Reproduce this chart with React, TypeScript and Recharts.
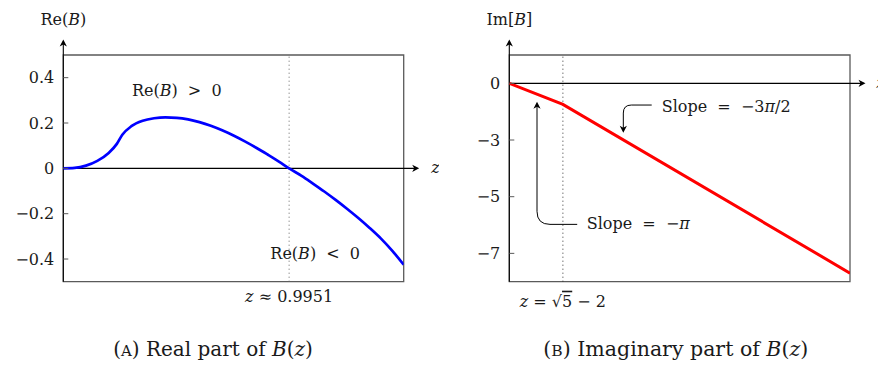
import React from 'react';
import {
  LineChart,
  Line,
  XAxis,
  YAxis,
  ReferenceLine,
  ReferenceArea,
  ReferenceDot,
} from 'recharts';

// ---------- Panel A: real part of B(z) ----------
const reZ = [
  0, 0.05, 0.1, 0.15, 0.2, 0.236, 0.26, 0.3, 0.35, 0.4, 0.45, 0.5, 0.55, 0.6, 0.65, 0.7, 0.75,
  0.8, 0.85, 0.9, 0.95, 0.9951, 1.05, 1.1, 1.15, 1.2, 1.25, 1.3, 1.35, 1.4, 1.45, 1.5,
];
const reValues = [
  0, 0.002, 0.012, 0.033, 0.068, 0.108, 0.148, 0.186, 0.21, 0.221, 0.225, 0.223, 0.216, 0.204,
  0.188, 0.168, 0.145, 0.119, 0.091, 0.061, 0.03, 0, -0.033, -0.067, -0.102, -0.139, -0.178,
  -0.219, -0.263, -0.31, -0.364, -0.425,
];
const reDomainZ = [0, 1.5];
const reDomainV = [-0.5, 0.5];
const reTicks = [-0.4, -0.2, 0, 0.2, 0.4];
const reTickLabels = ['−0.4', '−0.2', '0', '0.2', '0.4'];
const reRoot = 0.9951;

// ---------- Panel B: imaginary part of B(z) ----------
const imZ = [0, 0.236, 1.5];
const imValues = [0, -0.742, -6.698];
const imDomainZ = [0, 1.5];
const imDomainV = [-7, 1];
const imTicks = [0, -2, -4, -6];
const imTickLabels = ['0', '−3', '−5', '−7'];
const imBreak = 0.236;

const reData = reZ.map((z, i) => ({ z, v: reValues[i] }));
const imData = imZ.map((z, i) => ({ z, v: imValues[i] }));

const SERIF = '"DejaVu Serif", "Liberation Serif", serif';
const INK = '#1a1a1a';
const FRAME = '#5a5a5a';
const AXIS_OVERHANG = 15.5;

type Part = [string, boolean?];

const MathText = ({
  x,
  y,
  parts,
  size = 16,
  anchor = 'middle',
}: {
  x: number;
  y: number;
  parts: Part[];
  size?: number;
  anchor?: 'start' | 'middle' | 'end';
}) => (
  <text
    x={x}
    y={y}
    textAnchor={anchor}
    fontFamily={SERIF}
    fontSize={size}
    fill={INK}
    style={{ whiteSpace: 'pre' }}
  >
    {parts.map(([s, it], k) => (
      <tspan key={k} fontStyle={it ? 'italic' : undefined}>
        {s}
      </tspan>
    ))}
  </text>
);

const ArrowHead = ({ x, y, angle }: { x: number; y: number; angle: number }) => (
  <path
    d="M0,0 L-7,-3.6 L-5,0 L-7,3.6 Z"
    transform={`translate(${x},${y}) rotate(${angle})`}
    fill="#000"
  />
);

// horizontal axis through the plot with an arrow past the right frame
const HorizontalAxisArrow = (p: any) => {
  const xl = Math.min(p.x1, p.x2);
  const xr = Math.max(p.x1, p.x2) + AXIS_OVERHANG;
  return (
    <g>
      <line x1={xl} y1={p.y1} x2={xr - 2} y2={p.y1} stroke="#000" strokeWidth={1.1} />
      <ArrowHead x={xr} y={p.y1} angle={0} />
    </g>
  );
};

// vertical axis along the left frame with an arrow above the top frame
const VerticalAxisArrow = (p: any) => {
  const yb = Math.max(p.y1, p.y2);
  const yt = Math.min(p.y1, p.y2) - AXIS_OVERHANG;
  return (
    <g>
      <line x1={p.x1} y1={yb} x2={p.x1} y2={yt + 2} stroke="#000" strokeWidth={1.1} />
      <ArrowHead x={p.x1} y={yt} angle={-90} />
    </g>
  );
};

// annotation arrow: horizontal leg, rounded corner, vertical leg ending in a head
const elbowArrow = (r: number) => (p: any) => {
  const { x1, y1, x2, y2 } = p;
  const dx = Math.sign(x2 - x1) || 1;
  const dy = Math.sign(y2 - y1) || 1;
  const d = `M${x1},${y1} H${x2 - dx * r} Q${x2},${y1} ${x2},${y1 + dy * r} V${y2 - dy * 2}`;
  return (
    <g>
      <path d={d} fill="none" stroke="#000" strokeWidth={1} />
      <ArrowHead x={x2} y={y2} angle={dy > 0 ? 90 : -90} />
    </g>
  );
};

const makeTick = (ticks: number[], labels: string[]) => (props: any) => {
  const { x, y, payload } = props;
  const idx = ticks.findIndex((t) => Math.abs(t - payload.value) < 1e-9);
  return (
    <g>
      <line x1={x} x2={x + 5} y1={y} y2={y} stroke={FRAME} strokeWidth={1} />
      <text
        x={x - 9}
        y={y}
        dy="0.36em"
        textAnchor="end"
        fontFamily={SERIF}
        fontSize={16}
        fill={INK}
      >
        {labels[idx]}
      </text>
    </g>
  );
};

const textAt =
  (
    parts: Part[],
    dy: number,
    anchor: 'start' | 'middle' | 'end' = 'middle',
    dx = 0,
    size = 16,
  ) =>
  (p: any) =>
    <MathText x={p.cx + dx} y={p.cy + dy} parts={parts} anchor={anchor} size={size} />;

const W = 439;
const H = 368;

const RealPanel = () => (
  <LineChart
    width={W}
    height={H}
    data={reData}
    margin={{ top: 55, right: 35.3, bottom: 86.3, left: 43.3 }}
  >
    <XAxis dataKey="z" type="number" domain={reDomainZ} hide allowDataOverflow />
    <YAxis
      type="number"
      domain={reDomainV}
      ticks={reTicks}
      interval={0}
      width={20}
      axisLine={false}
      tickLine={false}
      tickSize={0}
      tickMargin={0}
      tick={makeTick(reTicks, reTickLabels)}
      allowDataOverflow
    />
    <ReferenceArea
      x1={reDomainZ[0]}
      x2={reDomainZ[1]}
      y1={reDomainV[0]}
      y2={reDomainV[1]}
      fill="none"
      fillOpacity={0}
      stroke={FRAME}
      strokeWidth={1.3}
    />
    <ReferenceLine x={reRoot} stroke="#666" strokeWidth={1} strokeDasharray="1 3" />
    <ReferenceLine y={0} shape={HorizontalAxisArrow} />
    <ReferenceLine x={0} shape={VerticalAxisArrow} />
    <Line
      dataKey="v"
      type="monotone"
      stroke="#0000ff"
      strokeWidth={2.7}
      dot={false}
      isAnimationActive={false}
    />
    <ReferenceDot x={0} y={0.5} r={0} ifOverflow="visible" shape={textAt([['Re('], ['B', true], [')']], -30)} />
    <ReferenceDot
      x={1.5}
      y={0}
      r={0}
      ifOverflow="visible"
      shape={textAt([['z', true]], 4.5, 'start', 27.5)}
    />
    <ReferenceDot
      x={0.5}
      y={0.32}
      r={0}
      ifOverflow="visible"
      shape={textAt([['Re('], ['B', true], [')  >  0']], 0)}
    />
    <ReferenceDot
      x={1.11}
      y={-0.4}
      r={0}
      ifOverflow="visible"
      shape={textAt([['Re('], ['B', true], [')  <  0']], 0)}
    />
    <ReferenceDot
      x={reRoot}
      y={-0.5}
      r={0}
      ifOverflow="visible"
      shape={textAt([['z', true], [' ≈ 0.9951']], 20)}
    />
    <text x={213} y={356} textAnchor="middle" fontFamily={SERIF} fontSize={20} fill={INK} style={{ whiteSpace: 'pre' }}>
      <tspan>(</tspan>
      <tspan fontSize={15}>A</tspan>
      <tspan>) Real part of </tspan>
      <tspan fontStyle="italic">B</tspan>
      <tspan>(</tspan>
      <tspan fontStyle="italic">z</tspan>
      <tspan>)</tspan>
    </text>
  </LineChart>
);

const ImagPanel = () => (
  <LineChart
    width={W}
    height={H}
    data={imData}
    margin={{ top: 55, right: 28, bottom: 86.3, left: 50.3 }}
  >
    <XAxis dataKey="z" type="number" domain={imDomainZ} hide allowDataOverflow />
    <YAxis
      type="number"
      domain={imDomainV}
      ticks={imTicks}
      interval={0}
      width={20}
      axisLine={false}
      tickLine={false}
      tickSize={0}
      tickMargin={0}
      tick={makeTick(imTicks, imTickLabels)}
      allowDataOverflow
    />
    <ReferenceArea
      x1={imDomainZ[0]}
      x2={imDomainZ[1]}
      y1={imDomainV[0]}
      y2={imDomainV[1]}
      fill="none"
      fillOpacity={0}
      stroke={FRAME}
      strokeWidth={1.3}
    />
    <ReferenceLine x={imBreak} stroke="#333" strokeWidth={1} strokeDasharray="1 3" />
    <ReferenceLine y={0} shape={HorizontalAxisArrow} />
    <ReferenceLine x={0} shape={VerticalAxisArrow} />
    <Line
      dataKey="v"
      type="linear"
      stroke="#ff0000"
      strokeWidth={3}
      dot={false}
      isAnimationActive={false}
    />
    <ReferenceLine
      segment={[
        { x: 0.627, y: -0.766 },
        { x: 0.502, y: -1.744 },
      ]}
      ifOverflow="visible"
      shape={elbowArrow(8)}
    />
    <ReferenceLine
      segment={[
        { x: 0.299, y: -4.977 },
        { x: 0.122, y: -0.65 },
      ]}
      ifOverflow="visible"
      shape={elbowArrow(13)}
    />
    <ReferenceDot x={0} y={1} r={0} ifOverflow="visible" shape={textAt([['Im['], ['B', true], [']']], -30)} />
    <ReferenceDot
      x={1.5}
      y={0}
      r={0}
      ifOverflow="visible"
      shape={textAt([['z', true]], 4.5, 'start', 26.5)}
    />
    <ReferenceDot
      x={0.671}
      y={-1.023}
      r={0}
      ifOverflow="visible"
      shape={textAt([['Slope  =  −3'], ['π', true], ['/2']], 0, 'start')}
    />
    <ReferenceDot
      x={0.341}
      y={-5.153}
      r={0}
      ifOverflow="visible"
      shape={textAt([['Slope  =  −'], ['π', true]], 0, 'start')}
    />
    <ReferenceDot
      x={imBreak}
      y={-7}
      r={0}
      ifOverflow="visible"
      shape={(p: any) => (
        <text
          x={p.cx}
          y={p.cy + 25}
          textAnchor="middle"
          fontFamily={SERIF}
          fontSize={16}
          fill={INK}
          style={{ whiteSpace: 'pre' }}
        >
          <tspan fontStyle="italic">z</tspan>
          <tspan> = √</tspan>
          <tspan style={{ textDecoration: 'overline' }}>5</tspan>
          <tspan> − 2</tspan>
        </text>
      )}
    />
    <text x={236.8} y={356} textAnchor="middle" fontFamily={SERIF} fontSize={20.5} fill={INK} style={{ whiteSpace: 'pre' }}>
      <tspan>(</tspan>
      <tspan fontSize={15.5}>B</tspan>
      <tspan>) Imaginary part of </tspan>
      <tspan fontStyle="italic">B</tspan>
      <tspan>(</tspan>
      <tspan fontStyle="italic">z</tspan>
      <tspan>)</tspan>
    </text>
  </LineChart>
);

export default function App() {
  return (
    <div style={{ position: 'absolute', left: 0, top: 0, width: 878, height: 368, background: '#fff' }}>
      <div style={{ position: 'absolute', left: 0, top: 0 }}>
        <RealPanel />
      </div>
      <div style={{ position: 'absolute', left: 439, top: 0 }}>
        <ImagPanel />
      </div>
    </div>
  );
}
